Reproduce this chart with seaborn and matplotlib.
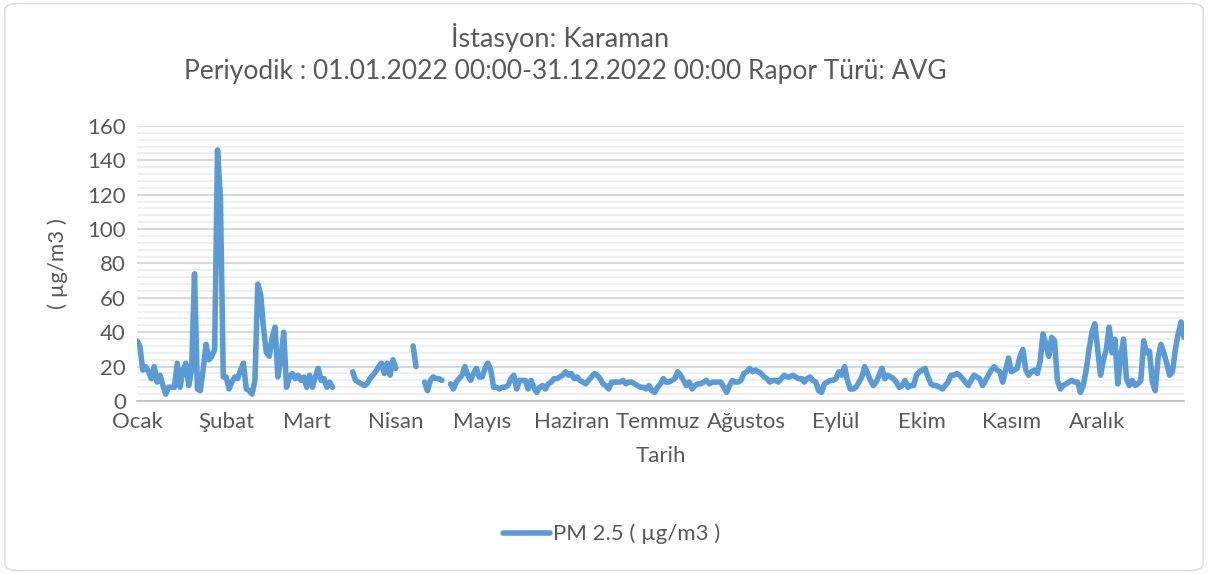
import numpy as np
import pandas as pd
import matplotlib
matplotlib.use('Agg')
import matplotlib.pyplot as plt
import seaborn as sns
from matplotlib.patches import FancyBboxPatch
from matplotlib.lines import Line2D

nan = np.nan

# daily PM2.5 (µg/m3), Karaman station, 2022 -- NaN = no measurement
jan = [35, 32, 18, 20, 17, 13, 20, 11, 15, 9, 4, 8, 8, 8, 22, 8, 18, 22, 9, 18,
       74, 7, 6, 18, 33, 24, 26, 30, 146, 118, 14]
feb = [14, 7, 11, 14, 13, 18, 22, 7, 6, 4, 12, 68, 62, 42, 28, 26, 37, 43, 14, 24,
       40, 8, 14, 16, 13, 15, 12, 14]
mar = [8, 15, 8, 14, 19, 12, 13, 8, 11, 8, nan, nan, nan, nan, nan, nan, 17, 12, 11, 10,
       9, 10, 13, 15, 17, 20, 22, 16, 22, 15, 24]
apr = [19, nan, nan, nan, nan, nan, 32, 20, nan, nan, 11, 6, 12, 14, 13, 13, 12, nan, nan, 10,
       7, 11, 13, 15, 20, 15, 12, 16, 19, 14]
may = [14, 19, 22, 18, 8, 8, 7, 8, 8, 9, 13, 15, 7, 12, 12, 12, 7, 12, 8, 5,
       8, 9, 7, 10, 11, 13, 13, 14, 15, 17, 15]
jun = [16, 13, 14, 12, 11, 10, 12, 14, 16, 15, 13, 10, 9, 7, 11, 11, 11, 11, 12, 10,
       11, 11, 10, 9, 8, 8, 7, 9, 6, 5]
jul = [8, 10, 13, 11, 11, 12, 13, 17, 15, 12, 9, 11, 7, 9, 10, 10, 11, 12, 10, 11,
       11, 11, 11, 8, 5, 9, 12, 11, 11, 12, 16]
aug = [17, 19, 17, 18, 17, 16, 14, 13, 11, 12, 12, 11, 13, 15, 14, 14, 15, 14, 13, 13,
       11, 13, 14, 12, 11, 6, 5, 10, 11, 12, 12]
sep = [13, 17, 15, 20, 12, 7, 7, 8, 11, 14, 20, 16, 12, 9, 11, 15, 19, 13, 15, 14,
       13, 11, 8, 9, 12, 8, 9, 9, 15, 17]
oct_ = [18, 19, 14, 10, 9, 9, 8, 7, 9, 11, 15, 15, 16, 15, 13, 11, 9, 12, 15, 14,
        13, 9, 12, 15, 18, 20, 18, 17, 11, 18, 25]
nov = [17, 18, 19, 26, 30, 18, 15, 17, 18, 16, 23, 39, 33, 26, 37, 35, 12, 7, 9, 10,
       11, 12, 11, 11, 5, 9, 18, 30, 40, 45]
dec = [30, 15, 24, 30, 43, 28, 36, 10, 26, 36, 13, 9, 12, 9, 10, 12, 35, 28, 29, 11,
       6, 25, 33, 28, 22, 15, 17, 30, 39, 46, 37]

months = ['Ocak', 'Şubat', 'Mart', 'Nisan', 'Mayıs', 'Haziran', 'Temmuz',
          'Ağustos', 'Eylül', 'Ekim', 'Kasım', 'Aralık']

values = jan + feb + mar + apr + may + jun + jul + aug + sep + oct_ + nov + dec
dates = pd.date_range('2022-01-01', '2022-12-31', freq='D')

df = pd.DataFrame({'Tarih': dates, 'pm25': values})
# give each unbroken run its own unit so gaps stay open
df['seg'] = df['pm25'].isna().cumsum()
df = df.dropna()

sns.set_style('white')
plt.rcParams['font.family'] = ['Lato', 'DejaVu Sans']
grey = '#595959'
blue = '#5b9bd5'

fig = plt.figure(figsize=(12.08, 5.74), dpi=100)
fig.patches.append(FancyBboxPatch((0.004, 0.006), 0.992, 0.988,
                                  boxstyle='round,pad=0,rounding_size=0.012',
                                  transform=fig.transFigure, facecolor='none',
                                  edgecolor='#d9d9d9', linewidth=1.0, zorder=-1))
ax = fig.add_axes([0.1134, 0.3014, 0.8667, 0.4791])
ax.patch.set_alpha(0)

sns.lineplot(data=df, x='Tarih', y='pm25', units='seg', estimator=None,
             color=blue, linewidth=4, ax=ax, legend=False,
             solid_capstyle='round', solid_joinstyle='round')

ax.set_ylim(0, 160)
ax.set_yticks(np.arange(0, 161, 20))
ax.set_yticks(np.arange(0, 161, 4), minor=True)
ax.grid(axis='y', which='major', color='#d9d9d9', linewidth=1.5)
ax.grid(axis='y', which='minor', color='#efefef', linewidth=1.5)
ax.set_axisbelow(True)

ax.set_xlim(dates[0], dates[-1])
starts = pd.date_range('2022-01-01', periods=12, freq='MS')
ax.set_xticks(list(starts) + [dates[-1]])
ax.set_xticklabels(months + [''])

for s in ['top', 'right', 'left']:
    ax.spines[s].set_visible(False)
ax.spines['bottom'].set_color('#bfbfbf')
ax.spines['bottom'].set_linewidth(1.2)
ax.tick_params(axis='x', which='major', direction='out', length=5, width=1.2,
               color='#bfbfbf', labelsize=16, labelcolor=grey, pad=3)
ax.tick_params(axis='y', which='both', length=0, labelsize=16, labelcolor=grey, pad=8)

ax.set_xlabel('Tarih', fontsize=16, color=grey, labelpad=10)
ax.set_ylabel('( µg/m3 )', fontsize=16, color=grey, labelpad=14)

fig.text(0.464, 1 - 38 / 574, 'İstasyon: Karaman', ha='center', va='center',
         fontsize=19.5, color=grey)
fig.text(0.468, 1 - 72 / 574, 'Periyodik : 01.01.2022 00:00-31.12.2022 00:00 Rapor Türü: AVG',
         ha='center', va='center', fontsize=19, color=grey)

handle = Line2D([], [], color=blue, linewidth=4)
fig.legend([handle], ['PM 2.5 ( µg/m3 )'], loc='center',
           bbox_to_anchor=(612 / 1208, 1 - 534 / 574), frameon=False,
           fontsize=16, labelcolor=grey, handlelength=2.1, handletextpad=0.15)

fig.savefig('out.png', dpi=100)
